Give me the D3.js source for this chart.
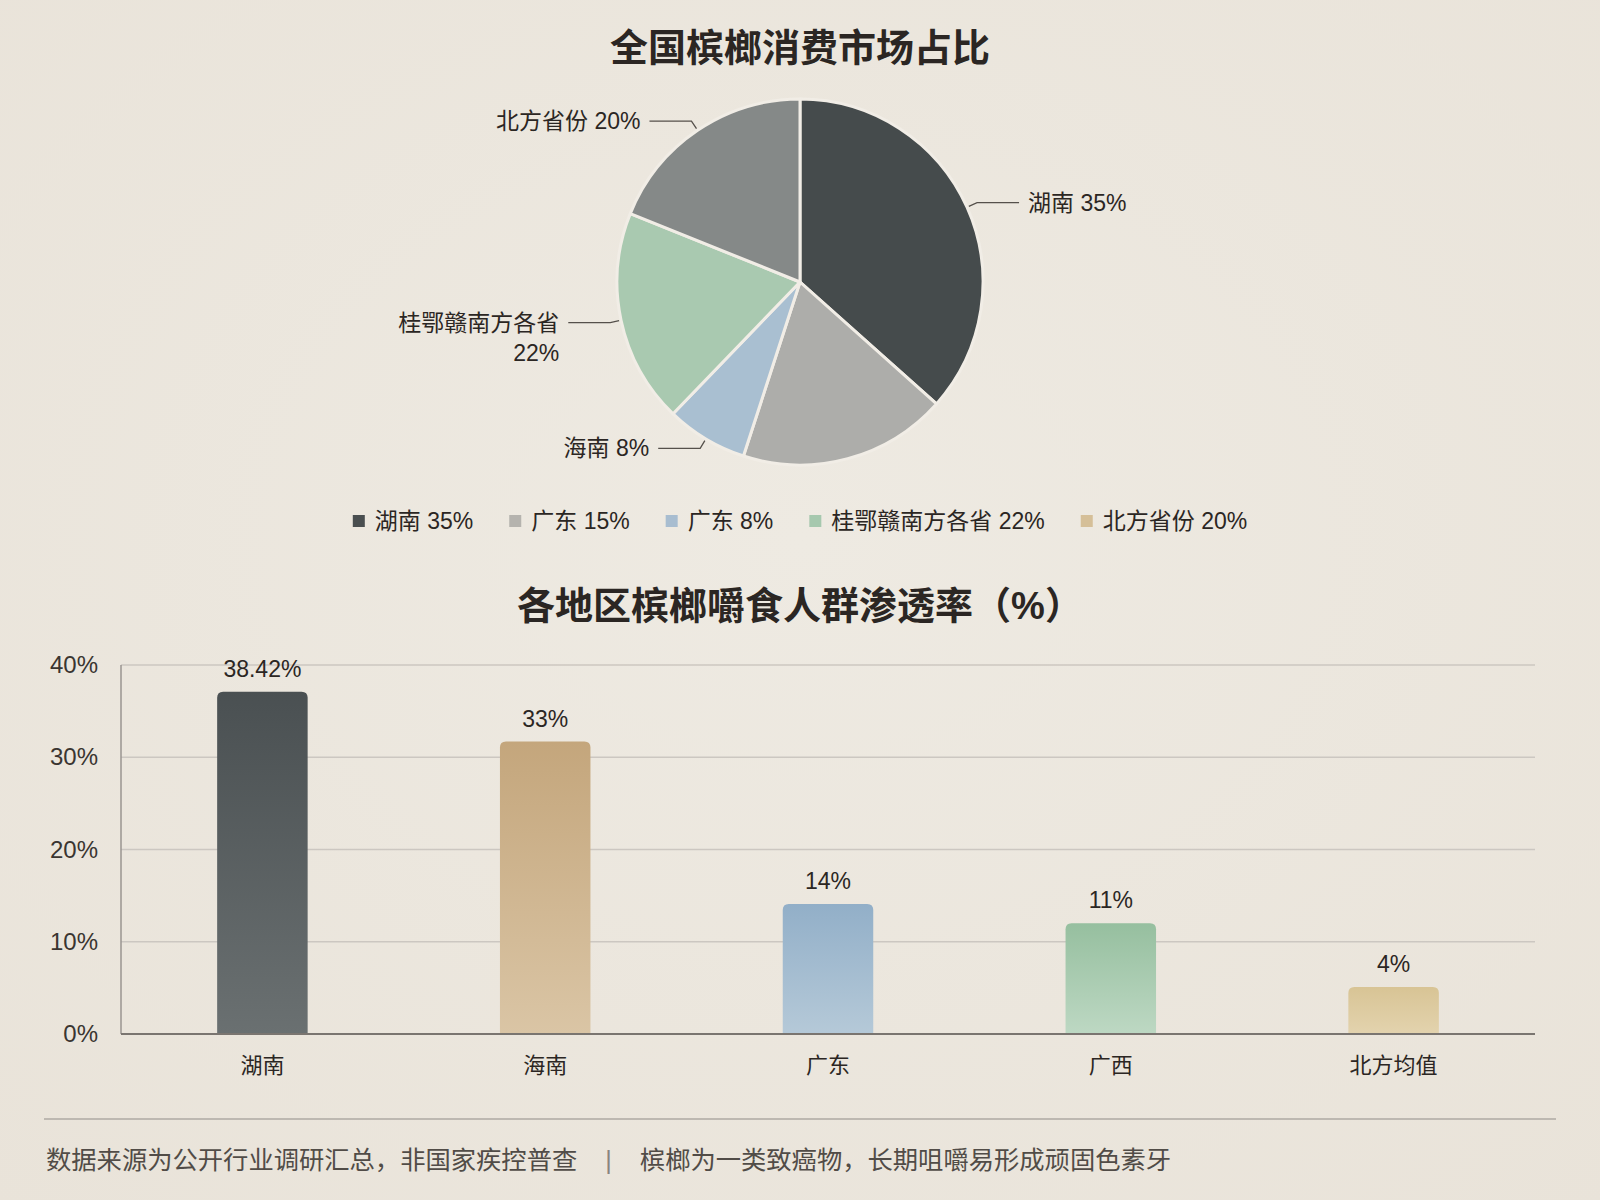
<!DOCTYPE html>
<html>
<head>
<meta charset="utf-8">
<script src="https://cdn.jsdelivr.net/npm/d3@7"></script>
<style>
  html, body { margin: 0; padding: 0; background: #ece7de; }
  svg { display: block; }
</style>
</head>
<body>
<script>
// ---------------- DATA ----------------
const pieTitle = "全国槟榔消费市场占比";
const pieNames = ["湖南", "广东", "海南", "桂鄂赣南方各省", "北方省份"];
const pieValues = [36.6, 18.4, 7.2, 18.9, 18.9];           // slice sizes as drawn
const pieLabelLines = [["湖南 35%"], [], ["海南 8%"], ["桂鄂赣南方各省", "22%"], ["北方省份 20%"]];
const pieColors = ["#454b4c", "#adadaa", "#a9bfd1", "#a9c9b0", "#858988"];
const legendText = ["湖南 35%", "广东 15%", "广东 8%", "桂鄂赣南方各省 22%", "北方省份 20%"];
const legendColors = ["#4a4f50", "#b5b3ae", "#a8bdd0", "#a6c8ae", "#d5bf98"];

const barTitle = "各地区槟榔嚼食人群渗透率（%）";
const barCategories = ["湖南", "海南", "广东", "广西", "北方均值"];
const barValues = [37.1, 31.7, 14.1, 12.0, 5.1];           // bar heights as drawn
const barLabels = ["38.42%", "33%", "14%", "11%", "4%"];
const barTopColors = ["#4a5052", "#c4a67c", "#92afc8", "#96bf9f", "#d8c495"];
const barBottomColors = ["#6a7071", "#dac5a5", "#b5c9d8", "#bdd8c3", "#e3d3ae"];
const yTicks = [0, 10, 20, 30, 40];

const footerLeft = "数据来源为公开行业调研汇总，非国家疾控普查";
const footerSep = "|";
const footerRight = "槟榔为一类致癌物，长期咀嚼易形成顽固色素牙";

// ---------------- SETUP ----------------
const W = 1600, H = 1200;
const FONT = "'Liberation Sans', 'Noto Sans CJK SC', 'Noto Sans', sans-serif";
const svg = d3.select("body").append("svg").attr("width", W).attr("height", H)
  .style("font-family", FONT);
const defs = svg.append("defs");

const bg = defs.append("radialGradient").attr("id", "bg").attr("cx", "50%").attr("cy", "45%").attr("r", "75%");
bg.append("stop").attr("offset", "0%").attr("stop-color", "#eeeae2");
bg.append("stop").attr("offset", "100%").attr("stop-color", "#e9e3d9");
svg.append("rect").attr("width", W).attr("height", H).attr("fill", "url(#bg)");

const textColor = "#2b2623";

// ---------------- PIE ----------------
svg.append("text").attr("x", 800).attr("y", 48).attr("text-anchor", "middle")
  .attr("dominant-baseline", "central").attr("font-size", 38).attr("font-weight", 700)
  .attr("fill", textColor).text(pieTitle);

const cx = 800, cy = 282, R = 183;
const pieGen = d3.pie().sort(null).value(d => d);
const arcs = pieGen(pieValues);
const arcGen = d3.arc().innerRadius(0).outerRadius(R);
const pg = svg.append("g").attr("transform", `translate(${cx},${cy})`);
pg.selectAll("path").data(arcs).join("path")
  .attr("d", arcGen)
  .attr("fill", (d, i) => pieColors[i])
  .attr("stroke", "#f1ede6").attr("stroke-width", 3).attr("stroke-linejoin", "round");

const polar = (r, a) => [r * Math.sin(a), -r * Math.cos(a)];
arcs.forEach((d, i) => {
  const lines = pieLabelLines[i];
  if (!lines.length) return;
  const mid = (d.startAngle + d.endAngle) / 2;
  const right = Math.sin(mid) > 0;
  const A = polar(R + 2, mid), B = polar(R + 11, mid);
  const C = [B[0] + (right ? 42 : -42), B[1]];
  pg.append("polyline").attr("points", [A, B, C].map(p => p.join(",")).join(" "))
    .attr("fill", "none").attr("stroke", "#55504b").attr("stroke-width", 1.3);
  const t = pg.append("text").attr("x", C[0] + (right ? 9 : -9)).attr("y", C[1])
    .attr("text-anchor", right ? "start" : "end").attr("font-size", 23).attr("fill", textColor);
  lines.forEach((ln, j) => {
    t.append("tspan").attr("x", C[0] + (right ? 9 : -9)).attr("y", C[1] + j * 30)
      .attr("dominant-baseline", "central").text(ln);
  });
});

// ---------------- LEGEND ----------------
const lg = svg.append("g");
let lx = 0;
legendText.forEach((t, i) => {
  const g = lg.append("g");
  g.append("rect").attr("x", 0).attr("y", -6).attr("width", 12).attr("height", 12).attr("fill", legendColors[i]);
  const tx = g.append("text").attr("x", 22).attr("y", 0).attr("dominant-baseline", "central")
    .attr("font-size", 23).attr("fill", textColor).text(t);
  const w = 22 + tx.node().getComputedTextLength();
  g.attr("transform", `translate(${lx},0)`);
  lx += w + 36;
});
const legW = lx - 36;
lg.attr("transform", `translate(${800 - legW / 2},521)`);

// ---------------- BAR CHART ----------------
svg.append("text").attr("x", 800).attr("y", 606).attr("text-anchor", "middle")
  .attr("dominant-baseline", "central").attr("font-size", 38).attr("font-weight", 700)
  .attr("fill", textColor).text(barTitle);

const x0 = 121, x1 = 1535, yTop = 665, yBot = 1034;
const x = d3.scaleBand().domain(barCategories).range([x0, x1]).paddingInner(0.68).paddingOuter(0.34);
const y = d3.scaleLinear().domain([0, 40]).range([yBot, yTop]);

const grid = svg.append("g");
grid.selectAll("line").data(yTicks.filter(v => v > 0)).join("line")
  .attr("x1", x0).attr("x2", x1).attr("y1", d => y(d)).attr("y2", d => y(d))
  .attr("stroke", "#ccc7c1").attr("stroke-width", 1.5);

const yAxis = d3.axisLeft(y).tickValues(yTicks).tickFormat(d => d + "%").tickSize(0).tickPadding(23);
const yg = svg.append("g").attr("transform", `translate(${x0},0)`).call(yAxis);
yg.select(".domain").remove();
yg.selectAll("text").attr("font-size", 24).attr("fill", "#3a3531").attr("font-family", FONT);
svg.append("line").attr("x1", x0).attr("x2", x0).attr("y1", yTop).attr("y2", yBot)
  .attr("stroke", "#9a9590").attr("stroke-width", 1.5);

barCategories.forEach((c, i) => {
  const gr = defs.append("linearGradient").attr("id", "bar" + i).attr("x1", 0).attr("y1", 0).attr("x2", 0).attr("y2", 1);
  gr.append("stop").attr("offset", "0%").attr("stop-color", barTopColors[i]);
  gr.append("stop").attr("offset", "100%").attr("stop-color", barBottomColors[i]);
});

function topRounded(xx, yy, w, h, r) {
  return `M${xx},${yy + h}V${yy + r}Q${xx},${yy} ${xx + r},${yy}H${xx + w - r}Q${xx + w},${yy} ${xx + w},${yy + r}V${yy + h}Z`;
}
const bars = svg.append("g");
bars.selectAll("path").data(barValues).join("path")
  .attr("d", (d, i) => topRounded(x(barCategories[i]), y(d), x.bandwidth(), y(0) - y(d), 6))
  .attr("fill", (d, i) => `url(#bar${i})`);

bars.selectAll("text").data(barValues).join("text")
  .attr("x", (d, i) => x(barCategories[i]) + x.bandwidth() / 2)
  .attr("y", d => y(d) - 15)
  .attr("text-anchor", "middle").attr("font-size", 23).attr("fill", textColor)
  .text((d, i) => barLabels[i]);

svg.append("line").attr("x1", x0).attr("x2", x1).attr("y1", yBot).attr("y2", yBot)
  .attr("stroke", "#7a7570").attr("stroke-width", 2);

const xAxis = d3.axisBottom(x).tickSize(0).tickPadding(0);
const xg = svg.append("g").attr("transform", `translate(0,${yBot})`).call(xAxis);
xg.select(".domain").remove();
xg.selectAll("text").attr("y", 31).attr("dy", null).attr("dominant-baseline", "central")
  .attr("font-size", 22).attr("fill", textColor).attr("font-family", FONT);

// ---------------- FOOTER ----------------
svg.append("line").attr("x1", 44).attr("x2", 1556).attr("y1", 1119).attr("y2", 1119)
  .attr("stroke", "#bdb8b1").attr("stroke-width", 2);
const ft = svg.append("text").attr("x", 46).attr("y", 1160).attr("dominant-baseline", "central")
  .attr("font-size", 25.3).attr("fill", "#514c47");
ft.append("tspan").text(footerLeft);
ft.append("tspan").attr("dx", 28).attr("fill", "#8a847e").text(footerSep);
ft.append("tspan").attr("dx", 28).text(footerRight);
</script>
</body>
</html>
